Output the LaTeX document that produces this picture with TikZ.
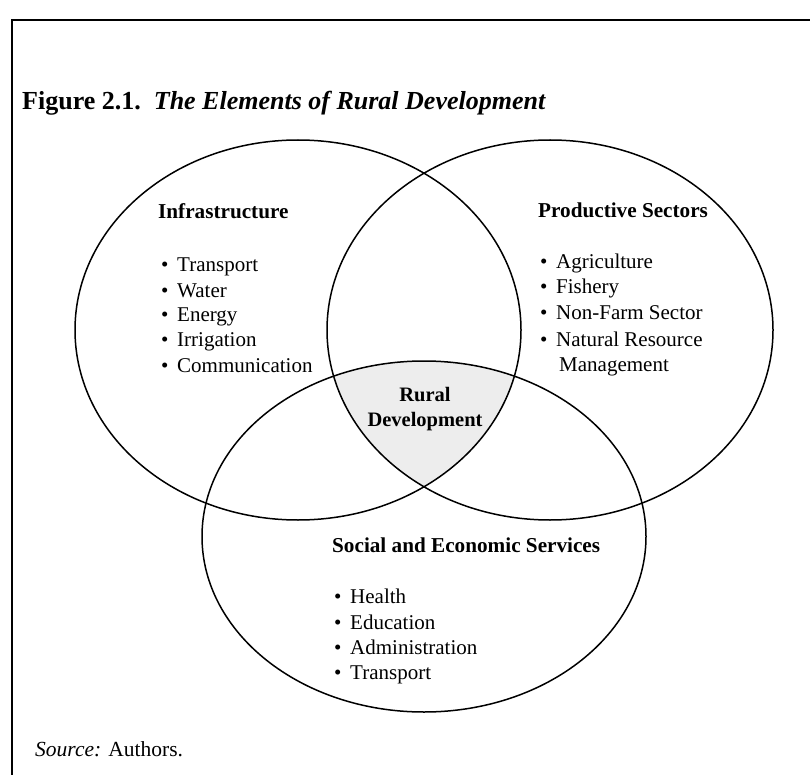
\documentclass[tikz,border=0pt]{standalone}
\usepackage{fontspec}
\setmainfont{Liberation Serif}
\begin{document}
\begin{tikzpicture}[x=1pt,y=-1pt,
  ell/.style={draw=black, line width=1.5pt},
  frameline/.style={draw=black, line width=1.8pt},
  head/.style={font=\fontsize{21.2}{24}\selectfont\bfseries, anchor=base west, inner sep=0pt},
  bul/.style={font=\fontsize{21}{24}\selectfont, anchor=base west, inner sep=0pt},
  itm/.style={font=\fontsize{21}{24}\selectfont, anchor=base west, inner sep=0pt},
  core/.style={font=\fontsize{20.5}{24}\selectfont\bfseries, anchor=base, inner sep=0pt},
]
\useasboundingbox (0,0) rectangle (810,775);
% frame
\draw[frameline] (12,775) -- (12,20) -- (810,20);
% title
\node[anchor=base west, inner sep=0pt, font=\fontsize{26}{30}\selectfont] (title) at (22,110)
  {\textbf{Figure 2.1.}\hspace{0.5em}\textbf{\textit{The Elements of Rural Development}}};
% shaded core
\begin{scope}
\clip (298,330) ellipse [x radius=223pt, y radius=190pt];
\clip (550,330) ellipse [x radius=223pt, y radius=190pt];
\fill[black!7] (424,536.5) ellipse [x radius=222pt, y radius=175.5pt];
\end{scope}
% ellipses
\draw[ell] (298,330) ellipse [x radius=223pt, y radius=190pt];
\draw[ell] (550,330) ellipse [x radius=223pt, y radius=190pt];
\draw[ell] (424,536.5) ellipse [x radius=222pt, y radius=175.5pt];
% Infrastructure
\node[head] (h1) at (158,219) {Infrastructure};
\node[bul] (b11) at (161,272) {\textbullet};
\node[itm] (t11) at (177,272) {Transport};
\node[bul] (b12) at (161,297) {\textbullet};
\node[itm] (t12) at (177,297) {Water};
\node[bul] (b13) at (161,321) {\textbullet};
\node[itm] (t13) at (177,321) {Energy};
\node[bul] (b14) at (161,346) {\textbullet};
\node[itm] (t14) at (177,346) {Irrigation};
\node[bul] (b15) at (161,372) {\textbullet};
\node[itm] (t15) at (177,372) {Communication};
% Productive sectors
\node[head] (h2) at (538,218) {Productive Sectors};
\node[bul] (b21) at (540,269) {\textbullet};
\node[itm] (t21) at (556,269) {Agriculture};
\node[bul] (b22) at (540,294) {\textbullet};
\node[itm] (t22) at (556,294) {Fishery};
\node[bul] (b23) at (540,319) {\textbullet};
\node[itm] (t23) at (556,319) {Non-Farm Sector};
\node[bul] (b24) at (540,346) {\textbullet};
\node[itm] (t24) at (556,346) {Natural Resource};
\node[itm] (t25) at (559,371) {Management};
% Social and economic services
\node[head] (h3) at (332,552) {Social and Economic Services};
\node[bul] (b31) at (334,603) {\textbullet};
\node[itm] (t31) at (350,603) {Health};
\node[bul] (b32) at (334,629) {\textbullet};
\node[itm] (t32) at (350,629) {Education};
\node[bul] (b33) at (334,654) {\textbullet};
\node[itm] (t33) at (350,654) {Administration};
\node[bul] (b34) at (334,679) {\textbullet};
\node[itm] (t34) at (350,679) {Transport};
% core
\node[core] (c1) at (425,401) {Rural};
\node[core] (c2) at (425,426) {Development};
% source
\node[anchor=base west, inner sep=0pt, font=\fontsize{21.5}{24}\selectfont] (src) at (35,756) {\textit{Source:} Authors.};
\end{tikzpicture}
\end{document}
